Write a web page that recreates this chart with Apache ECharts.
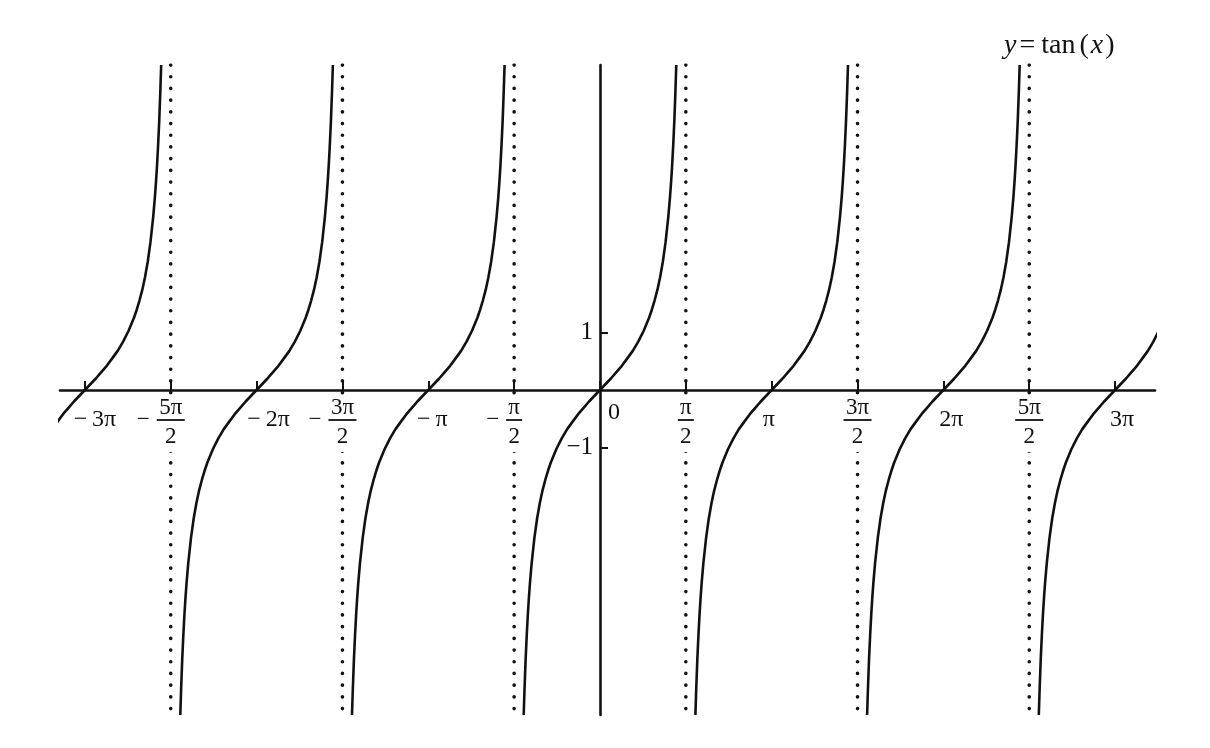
<!DOCTYPE html>
<html>
<head>
<meta charset="utf-8">
<script src="https://cdn.jsdelivr.net/npm/echarts@6/dist/echarts.min.js"></script>
<style>
  html, body { margin: 0; padding: 0; background: #fff; }
  #chart { width: 1210px; height: 748px; }
</style>
</head>
<body>
<div id="chart"></div>
<script>
// ---- data ----
const xTickValues = [-9.4248, -7.8540, -6.2832, -4.7124, -3.1416, -1.5708, 0, 1.5708, 3.1416, 4.7124, 6.2832, 7.8540, 9.4248];
const xTickLabels = ['−3π', '−5π/2', '−2π', '−3π/2', '−π', '−π/2', '0', 'π/2', 'π', '3π/2', '2π', '5π/2', '3π'];
const yTickValues = [-1, 1];
const yTickLabels = ['−1', '1'];
const asymptotes = [-7.8540, -4.7124, -1.5708, 1.5708, 4.7124, 7.8540];
const branchZeros = [-9.4248, -6.2832, -3.1416, 0, 3.1416, 6.2832, 9.4248];
const branchOffsets = [-1.396, -1.38, -1.36, -1.34, -1.32, -1.30, -1.28, -1.25, -1.20, -1.15, -1.10, -1.05, -1.00, -0.95, -0.90, -0.80, -0.70, -0.60, -0.50, -0.40, -0.30, -0.20, -0.10, 0,
                        0.10, 0.20, 0.30, 0.40, 0.50, 0.60, 0.70, 0.80, 0.90, 0.95, 1.00, 1.05, 1.10, 1.15, 1.20, 1.25, 1.28, 1.30, 1.32, 1.34, 1.36, 1.38, 1.396];
const branchValues  = [-5.65, -5.18, -4.67, -4.26, -3.90, -3.60, -3.34, -3.01, -2.57, -2.23, -1.96, -1.74, -1.56, -1.40, -1.26, -1.03, -0.84, -0.68, -0.55, -0.42, -0.31, -0.20, -0.10, 0,
                        0.10, 0.20, 0.31, 0.42, 0.55, 0.68, 0.84, 1.03, 1.26, 1.40, 1.56, 1.74, 1.96, 2.23, 2.57, 3.01, 3.34, 3.60, 3.90, 4.26, 4.67, 5.18, 5.65];
const titleParts = ['y', '=', 'tan', '(', 'x', ')'];

// ---- styles ----
const FONT = "'Liberation Serif', 'DejaVu Serif', serif";
const INK = '#111';
const Y_MIN = -5.65, Y_MAX = 5.65;
const labelShift = [10, 0, 12, 0, 4, 0, 14, 0, -3, 0, 8, 0, 7];

const rich = {
  num: { fontFamily: FONT, fontSize: 23, lineHeight: 20, color: INK },
  den: { fontFamily: FONT, fontSize: 23, lineHeight: 30, color: INK },
  m:   { fontFamily: FONT, fontSize: 23, lineHeight: 4, color: INK, padding: [0, 7, 0, 0] },
  mh:  { fontFamily: FONT, fontSize: 23, lineHeight: 4, color: 'rgba(0,0,0,0)', padding: [0, 0, 0, 7] },
  barS: { fontSize: 1, lineHeight: 4, width: 16, height: 1.8, backgroundColor: INK },
  barW: { fontSize: 1, lineHeight: 4, width: 28, height: 1.8, backgroundColor: INK }
};
xTickLabels.forEach((lab, i) => {
  const s = labelShift[i];
  rich['s' + i] = {
    fontFamily: FONT, fontSize: 24, color: INK,
    lineHeight: lab === '0' ? 30 : 44,
    padding: s >= 0 ? [0, 0, 0, 2 * s] : [0, -2 * s, 0, 0]
  };
});

function xLabel(idx) {
  const lab = xTickLabels[idx];
  if (lab.indexOf('/') < 0) return '{s' + idx + '|' + lab.replace('−', '−\u2009') + '}';
  const neg = lab[0] === '−';
  const body = neg ? lab.slice(1) : lab;
  const parts = body.split('/');
  const bar = parts[0].length > 1 ? 'barW' : 'barS';
  const mid = neg ? '{m|−}{' + bar + '| }{mh|−}' : '{' + bar + '| }';
  return '{num|' + parts[0] + '}\n' + mid + '\n{den|' + parts[1] + '}';
}

const series = [];
// dotted asymptotes
asymptotes.forEach(a => {
  series.push({
    type: 'line', z: 0, silent: true, showSymbol: false, symbol: 'none',
    data: [[a, Y_MAX], [a, Y_MIN]],
    lineStyle: { color: INK, width: 3.6, type: [0.1, 11.6], cap: 'round' }
  });
});
// x tick labels placed on the x axis (y = 0)
series.push({
  type: 'scatter', z: 1, silent: true, symbolSize: 0,
  itemStyle: { opacity: 1 },
  data: xTickValues.map((v, i) => {
    const item = { value: [v, 0] };
    if (xTickLabels[i].indexOf('/') >= 0) item.label = { backgroundColor: '#fff' };
    return item;
  }),
  label: {
    show: true, position: 'bottom', distance: 8,
    formatter: p => xLabel(p.dataIndex),
    rich: rich, color: INK, opacity: 1
  }
});
// y tick labels placed on the y axis (x = 0)
series.push({
  type: 'scatter', z: 1, silent: true, symbolSize: 0,
  itemStyle: { opacity: 1 },
  data: yTickValues.map(v => [0, v]),
  label: {
    show: true, position: 'left', distance: 7, opacity: 1,
    fontFamily: FONT, fontSize: 25, color: INK,
    formatter: p => yTickLabels[p.dataIndex]
  }
});
// tan branches
branchZeros.forEach(z0 => {
  series.push({
    type: 'line', z: 2, silent: true, showSymbol: false, symbol: 'none',
    smooth: false, clip: true,
    data: branchOffsets.map((o, i) => [z0 + o, branchValues[i]]),
    lineStyle: { color: INK, width: 2.6, join: 'round' }
  });
});

const chart = echarts.init(document.getElementById('chart'), null, { renderer: 'canvas' });
chart.setOption({
  animation: false,
  backgroundColor: '#fff',
  title: {
    text: '{i|' + titleParts[0] + '}{e|' + titleParts[1] + '}{t|' + titleParts[2] + '}{n|' + titleParts[3] + '}{x|' + titleParts[4] + '}{n|' + titleParts[5] + '}',
    left: 999, top: 27,
    textStyle: {
      fontWeight: 'normal',
      rich: {
        i: { fontFamily: FONT, fontStyle: 'italic', fontWeight: 'normal', fontSize: 28, color: INK },
        x: { fontFamily: FONT, fontStyle: 'italic', fontWeight: 'normal', fontSize: 28, color: INK, padding: [0, 2, 0, 2] },
        e: { fontFamily: FONT, fontWeight: 'normal', fontSize: 28, color: INK, padding: [0, 6, 0, 3] },
        t: { fontFamily: FONT, fontWeight: 'normal', fontSize: 28, color: INK, padding: [0, 4, 0, 0] },
        n: { fontFamily: FONT, fontWeight: 'normal', fontSize: 28, color: INK }
      }
    }
  },
  grid: { left: 60, right: 55, top: 65, bottom: 33, outerBoundsMode: 'none' },
  xAxis: {
    type: 'value', min: -9.88, max: 10.155, z: 1,
    axisLine: { onZero: true, lineStyle: { color: INK, width: 2.6 } },
    axisTick: { show: true, inside: true, length: 9, customValues: xTickValues, lineStyle: { color: INK, width: 2 } },
    axisLabel: { show: false },
    splitLine: { show: false }
  },
  yAxis: {
    type: 'value', min: Y_MIN, max: Y_MAX, z: 1,
    axisLine: { onZero: true, lineStyle: { color: INK, width: 2.6 } },
    axisTick: { show: true, inside: true, length: 8, customValues: yTickValues, lineStyle: { color: INK, width: 2 } },
    axisLabel: { show: false },
    splitLine: { show: false }
  },
  series: series
});
</script>
</body>
</html>
